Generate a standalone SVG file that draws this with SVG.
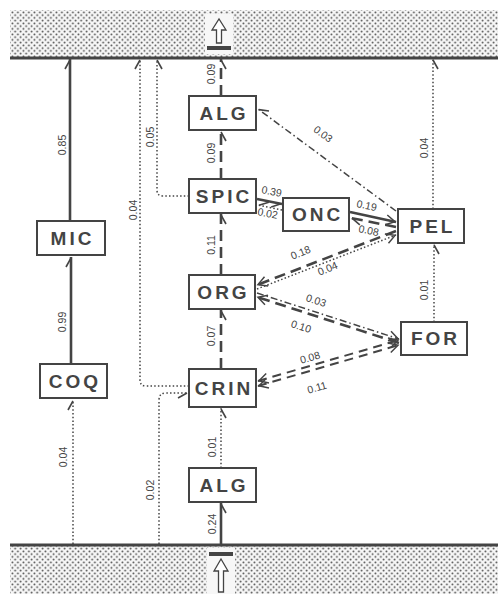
<svg xmlns="http://www.w3.org/2000/svg" width="498" height="594" viewBox="0 0 498 594">
<defs>
<pattern id="dots" width="5.5" height="5.5" patternUnits="userSpaceOnUse">
<rect width="5.5" height="5.5" fill="#f7f7f7"/>
<circle cx="1.4" cy="1.4" r="0.95" fill="#4a4a4a"/>
<circle cx="4.15" cy="4.15" r="0.95" fill="#4a4a4a"/>
</pattern>
<marker id="bL" markerUnits="userSpaceOnUse" orient="auto" markerWidth="20" markerHeight="20" refX="0" refY="0" viewBox="-12 -10 20 20" overflow="visible">
<path d="M-1,0 L-10,-5" fill="none" stroke="#444" stroke-width="1.6"/>
</marker>
<marker id="bR" markerUnits="userSpaceOnUse" orient="auto" markerWidth="20" markerHeight="20" refX="0" refY="0" viewBox="-12 -10 20 20" overflow="visible">
<path d="M-1,0 L-10,5" fill="none" stroke="#444" stroke-width="1.6"/>
</marker>
<marker id="vA" markerUnits="userSpaceOnUse" orient="auto-start-reverse" markerWidth="20" markerHeight="20" refX="0" refY="0" viewBox="-12 -10 20 20" overflow="visible">
<path d="M-10,-5 L-1,0 L-10,5" fill="none" stroke="#444" stroke-width="1.5"/>
</marker>
</defs>
<style>
.box{fill:#fff;stroke:#444;stroke-width:2}
.nt{font-family:"Liberation Sans",Arial,sans-serif;font-weight:bold;font-size:19px;letter-spacing:3px;fill:#444;text-anchor:middle}
.lb{font-family:"Liberation Sans",Arial,sans-serif;font-size:10.5px;fill:#444;text-anchor:middle}
.sol{fill:none;stroke:#444;stroke-width:2.6}
.dot{fill:none;stroke:#444;stroke-width:1.5;stroke-dasharray:1.5,2.2}
.dsh{fill:none;stroke:#444;stroke-width:2.6;stroke-dasharray:11,6}
.dd{fill:none;stroke:#444;stroke-width:1.5;stroke-dasharray:7,3,1.5,3}
.eq{fill:none;stroke:#444;stroke-width:2;stroke-dasharray:9,6}
.band{stroke:#444;stroke-width:3}
</style>
<rect width="498" height="594" fill="#fff"/>
<g id="top-band">
<rect x="10" y="10" width="488" height="47" fill="url(#dots)"/>
<rect x="205" y="14" width="28" height="40" fill="#f7f7f7"/>
<line class="band" x1="10" y1="58" x2="498" y2="58"/>
<rect x="207" y="46" width="24" height="4" fill="#444"/>
<path d="M216.5,43 V30 H212 L219,19 L226,30 H221.5 V43 Z" fill="#fff" stroke="#444" stroke-width="1.3"/>
</g>
<g id="bottom-band">
<rect x="10" y="546" width="488" height="48" fill="url(#dots)"/>
<rect x="207" y="548" width="28" height="46" fill="#f7f7f7"/>
<line class="band" x1="10" y1="545" x2="498" y2="545"/>
<rect x="209" y="552" width="24" height="4" fill="#444"/>
<path d="M218.5,592 V571 H214 L221,559 L228,571 H223.5 V592 Z" fill="#fff" stroke="#444" stroke-width="1.3"/>
</g>
<g id="connectors">
<line class="sol" x1="71" y1="363" x2="71" y2="257" marker-end="url(#bL)"/>
<line class="sol" x1="70" y1="221" x2="70" y2="59" marker-end="url(#bL)"/>
<line class="dot" x1="73" y1="544" x2="73" y2="400" marker-end="url(#bL)"/>
<path class="dot" d="M189,386 H146 Q140,386 140,380 V59" marker-end="url(#bL)"/>
<path class="dot" d="M189,196 H163 Q157,196 157,190 V59" marker-end="url(#bR)"/>
<path class="dot" d="M159,544 V400 Q159,393 166,393 H188" marker-end="url(#bR)"/>
<line class="sol" x1="221" y1="544" x2="221" y2="503" stroke-width="3" marker-end="url(#bR)"/>
<line class="dot" x1="221" y1="468" x2="221" y2="408" marker-end="url(#bR)"/>
<line class="dsh" x1="221" y1="369" x2="221" y2="310" marker-end="url(#bR)"/>
<line class="dsh" x1="221" y1="275" x2="221" y2="214" marker-end="url(#bR)"/>
<line class="dsh" x1="221" y1="179" x2="221" y2="131" marker-end="url(#bR)"/>
<line class="dsh" x1="221" y1="96" x2="221" y2="59" marker-end="url(#bR)"/>
<line class="sol" x1="257" y1="199" x2="282" y2="204" marker-end="url(#bR)"/>
<line class="dot" x1="282" y1="210" x2="258" y2="205" marker-end="url(#bR)"/>
<line class="sol" x1="350" y1="212" x2="396" y2="222" marker-end="url(#vA)"/>
<line class="dsh" x1="396" y1="227" x2="351" y2="218" stroke-width="1.8" stroke-dasharray="9,5" marker-end="url(#bL)"/>
<line class="dd" x1="396" y1="211" x2="258" y2="109" marker-end="url(#bR)"/>
<line class="dsh" x1="396" y1="231" x2="257" y2="285" stroke-width="2" stroke-dasharray="10,7" marker-end="url(#vA)"/>
<line class="dot" x1="257" y1="289" x2="396" y2="235" marker-end="url(#vA)"/>
<line class="dd" x1="257" y1="293" x2="399" y2="339" marker-end="url(#vA)"/>
<line class="dsh" x1="399" y1="343" x2="257" y2="297" stroke-width="2" stroke-dasharray="10,7" marker-end="url(#vA)"/>
<line class="eq" x1="258" y1="381" x2="399" y2="340" marker-start="url(#vA)" marker-end="url(#vA)"/>
<line class="eq" x1="258" y1="386" x2="399" y2="345" marker-start="url(#vA)" marker-end="url(#vA)"/>
<line class="dot" x1="434" y1="322" x2="434" y2="244" marker-end="url(#bR)"/>
<line class="dot" x1="433" y1="209" x2="433" y2="59" marker-end="url(#bR)"/>
</g>
<g id="labels">
<text class="lb" transform="translate(66,145) rotate(-90)">0.85</text>
<text class="lb" transform="translate(66,322) rotate(-90)">0.99</text>
<text class="lb" transform="translate(67,457) rotate(-90)">0.04</text>
<text class="lb" transform="translate(137,210) rotate(-90)">0.04</text>
<text class="lb" transform="translate(154,137) rotate(-90)">0.05</text>
<text class="lb" transform="translate(154,490) rotate(-90)">0.02</text>
<text class="lb" transform="translate(215,74) rotate(-90)">0.09</text>
<text class="lb" transform="translate(215,153) rotate(-90)">0.09</text>
<text class="lb" transform="translate(215,245) rotate(-90)">0.11</text>
<text class="lb" transform="translate(215,336) rotate(-90)">0.07</text>
<text class="lb" transform="translate(216,447) rotate(-90)">0.01</text>
<text class="lb" transform="translate(216,524) rotate(-90)">0.24</text>
<text class="lb" transform="translate(428,148) rotate(-90)">0.04</text>
<text class="lb" transform="translate(428,290) rotate(-90)">0.01</text>
<text class="lb" transform="translate(271,195) rotate(11)">0.39</text>
<text class="lb" transform="translate(267,217) rotate(11)">0.02</text>
<text class="lb" transform="translate(366,209) rotate(12)">0.19</text>
<text class="lb" transform="translate(368,234) rotate(12)">0.08</text>
<text class="lb" transform="translate(321,137) rotate(36)">0.03</text>
<text class="lb" transform="translate(302,256) rotate(-22)">0.18</text>
<text class="lb" transform="translate(329,272) rotate(-22)">0.04</text>
<text class="lb" transform="translate(315,304) rotate(18)">0.03</text>
<text class="lb" transform="translate(300,330) rotate(18)">0.10</text>
<text class="lb" transform="translate(311,361) rotate(-16)">0.08</text>
<text class="lb" transform="translate(318,391) rotate(-16)">0.11</text>
</g>
<g id="MIC"><rect class="box" x="37" y="221" width="68" height="34"/><text class="nt" x="72.5" y="245">MIC</text></g>
<g id="COQ"><rect class="box" x="40" y="364" width="67" height="34"/><text class="nt" x="75" y="388">COQ</text></g>
<g id="ALG-top"><rect class="box" x="189" y="96" width="67" height="34"/><text class="nt" x="224" y="120">ALG</text></g>
<g id="SPIC"><rect class="box" x="189" y="179" width="67" height="34"/><text class="nt" x="224" y="203">SPIC</text></g>
<g id="ONC"><rect class="box" x="283" y="198" width="66" height="33"/><text class="nt" x="317.5" y="221">ONC</text></g>
<g id="PEL"><rect class="box" x="398" y="209" width="66" height="34"/><text class="nt" x="432.5" y="233">PEL</text></g>
<g id="ORG"><rect class="box" x="189" y="275" width="66" height="34"/><text class="nt" x="223.5" y="299">ORG</text></g>
<g id="FOR"><rect class="box" x="401" y="322" width="66" height="33"/><text class="nt" x="435.5" y="345">FOR</text></g>
<g id="CRIN"><rect class="box" x="189" y="369" width="67" height="38"/><text class="nt" x="224" y="395">CRIN</text></g>
<g id="ALG-bottom"><rect class="box" x="189" y="468" width="67" height="34"/><text class="nt" x="224" y="492">ALG</text></g>
</svg>
